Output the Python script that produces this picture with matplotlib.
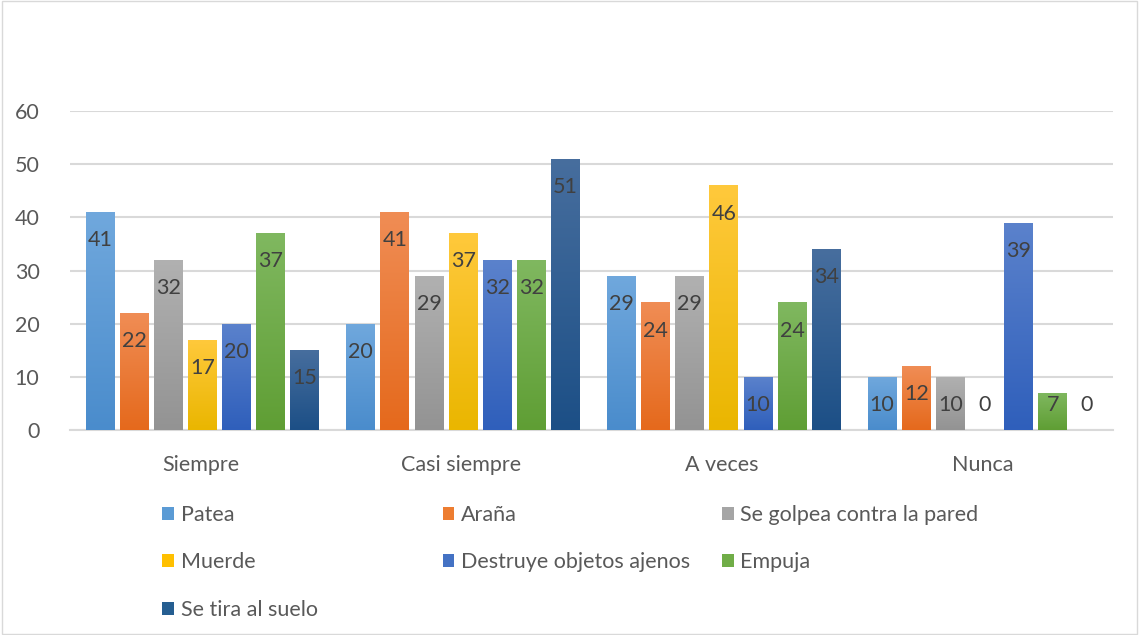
import matplotlib
matplotlib.use("Agg")
import matplotlib.pyplot as plt
import numpy as np
from matplotlib.colors import LinearSegmentedColormap
from matplotlib.patches import Rectangle, Patch

categories = ["Siempre", "Casi siempre", "A veces", "Nunca"]
series_names = ["Patea", "Araña", "Se golpea contra la pared", "Muerde",
                "Destruye objetos ajenos", "Empuja", "Se tira al suelo"]
patea = [41, 20, 29, 10]
arana = [22, 41, 24, 12]
golpea = [32, 29, 29, 10]
muerde = [17, 37, 46, 0]
destruye = [20, 32, 10, 39]
empuja = [37, 32, 24, 7]
tira = [15, 51, 34, 0]
series_values = [patea, arana, golpea, muerde, destruye, empuja, tira]
y_ticks = [0, 10, 20, 30, 40, 50, 60]

base_colors = ["#5B9BD5", "#ED7D31", "#A5A5A5", "#FFC000", "#4472C4", "#70AD47", "#255E91"]
top_colors = ["#70a8dd", "#f08d55", "#b1b1b1", "#ffc93c", "#5b82cc", "#80b860", "#476e9e"]
bot_colors = ["#4a8ccc", "#e5691c", "#939393", "#eab600", "#2f5fbb", "#5f9e34", "#1c4f86"]

plt.rcParams['font.family'] = ['Lato', 'DejaVu Sans']
text_col = "#595959"
fs = 15.5

fig = plt.figure(figsize=(11.39, 6.35), dpi=100)
ax = fig.add_axes([0.0615, 0.3228, 0.9155, 0.5024])

n = len(series_names)
pitch = 0.131
width = 0.111
x = np.arange(len(categories))
grad = np.linspace(0, 1, 256).reshape(-1, 1)

for i, (name, vals) in enumerate(zip(series_names, series_values)):
    offs = (i - (n - 1) / 2) * pitch + 0.008
    bars = ax.bar(x + offs, vals, width, color=base_colors[i], zorder=3, label=name)
    cmap = LinearSegmentedColormap.from_list(f"g{i}", [bot_colors[i], top_colors[i]])
    for b, v in zip(bars, vals):
        x0 = b.get_x()
        if v > 0:
            im = ax.imshow(grad, extent=[x0, x0 + width, 0, v], origin='lower',
                           aspect='auto', cmap=cmap, zorder=3.5, interpolation='bilinear')
            im.set_clip_path(b)
        ly = max(v - 5.3, 4.7)
        ax.text(x0 + width / 2, ly, str(v), ha='center', va='center',
                fontsize=fs, color="#404040", zorder=5)

ax.set_xlim(-0.5, len(categories) - 0.5)
ax.set_ylim(0, 60)
ax.set_yticks(y_ticks)
ax.set_yticklabels([str(t) for t in y_ticks])
ax.set_xticks(x)
ax.set_xticklabels(categories)
ax.tick_params(axis='both', length=0, labelsize=fs, colors=text_col)
ax.tick_params(axis='x', pad=18)
ax.tick_params(axis='y', pad=22)
ax.grid(axis='y', color="#d9d9d9", linewidth=1.5, zorder=0)
ax.set_axisbelow(True)
for s in ["top", "right", "left"]:
    ax.spines[s].set_visible(False)
ax.spines["bottom"].set_color("#d9d9d9")
ax.spines["bottom"].set_linewidth(1.5)

# legend: three columns placed like the original
handles = [Patch(facecolor=c) for c in base_colors]
cols = [[0, 3, 6], [1, 4], [2, 5]]
col_x = [0.1425, 0.3885, 0.634]
for cx, idxs in zip(col_x, cols):
    leg = fig.legend([handles[k] for k in idxs], [series_names[k] for k in idxs],
                     loc='upper left', bbox_to_anchor=(cx, 0.205), frameon=False,
                     fontsize=fs, handlelength=0.55, handleheight=0.55,
                     handletextpad=0.3, labelspacing=1.28, borderaxespad=0,
                     borderpad=0)
    for t in leg.get_texts():
        t.set_color(text_col)

fig.patches.append(Rectangle((0.002, 0.002), 0.996, 0.996, transform=fig.transFigure,
                             fill=False, edgecolor="#d9d9d9", linewidth=1))

fig.savefig("out.png", dpi=100)
